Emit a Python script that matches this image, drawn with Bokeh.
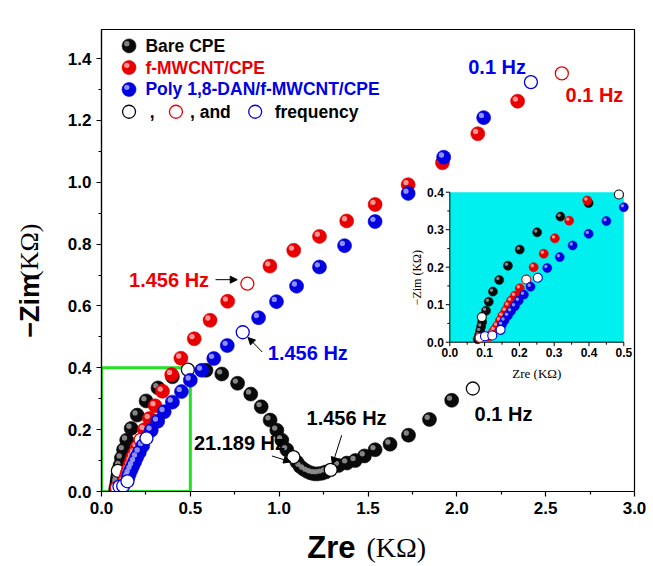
import math
from bokeh.plotting import figure
from bokeh.layouts import row, column
from bokeh.models import (Range1d, Arrow, NormalHead, ColumnDataSource,
                          FixedTicker, NumeralTickFormatter)
from bokeh.transform import dodge
from bokeh.core.properties import value
from bokeh.embed import file_html
from bokeh.resources import INLINE

# ---------------- data (KΩ) ----------------
bare_x = [0.080, 0.084, 0.087, 0.090, 0.093, 0.104, 0.112, 0.124, 0.142, 0.167,
          0.201, 0.251, 0.318, 0.399, 0.588, 0.677, 0.766, 0.840, 0.899, 0.949,
          0.987, 1.015, 1.043, 1.100, 1.118, 1.138, 1.158, 1.178, 1.198, 1.218,
          1.240, 1.262, 1.334, 1.381, 1.428, 1.480, 1.540, 1.624, 1.728, 1.846, 1.971]
bare_y = [0.008, 0.018, 0.030, 0.042, 0.054, 0.084, 0.108, 0.135, 0.166, 0.204,
          0.247, 0.293, 0.335, 0.371, 0.392, 0.380, 0.350, 0.315, 0.274, 0.231,
          0.198, 0.166, 0.135, 0.095, 0.081, 0.072, 0.065, 0.060, 0.057, 0.057,
          0.059, 0.063, 0.084, 0.092, 0.100, 0.115, 0.135, 0.153, 0.182, 0.233, 0.295]
bare_open_x = [0.092, 0.486, 1.080, 1.290, 2.090]
bare_open_y = [0.067, 0.394, 0.111, 0.070, 0.333]

red_x = [0.112, 0.122, 0.128, 0.136, 0.144, 0.151, 0.160, 0.168, 0.176, 0.187,
         0.201, 0.241, 0.270, 0.302, 0.343, 0.395, 0.447, 0.522, 0.611, 0.710,
         0.948, 1.082, 1.227, 1.380, 1.540, 1.726, 1.919, 2.118, 2.342]
red_y = [0.015, 0.025, 0.033, 0.044, 0.058, 0.071, 0.084, 0.098, 0.111, 0.124,
         0.144, 0.200, 0.236, 0.277, 0.324, 0.378, 0.431, 0.494, 0.554, 0.615,
         0.729, 0.780, 0.825, 0.875, 0.928, 0.992, 1.063, 1.157, 1.262]
red_open_x = [0.086, 0.220, 0.821, 2.591]
red_open_y = [0.012, 0.167, 0.672, 1.352]

blue_x = [0.150, 0.157, 0.167, 0.176, 0.187, 0.198, 0.213, 0.232, 0.280, 0.316,
          0.353, 0.399, 0.450, 0.500, 0.564, 0.632, 0.708, 0.884, 0.985, 1.098,
          1.227, 1.368, 1.540, 1.726, 1.926, 2.151]
blue_y = [0.047, 0.058, 0.071, 0.083, 0.096, 0.111, 0.127, 0.148, 0.198, 0.227,
          0.258, 0.289, 0.323, 0.360, 0.392, 0.430, 0.472, 0.562, 0.614, 0.664,
          0.726, 0.795, 0.873, 0.964, 1.081, 1.209]
blue_open_x = [0.101, 0.122, 0.146, 0.253, 0.795, 2.417]
blue_open_y = [0.016, 0.018, 0.033, 0.172, 0.515, 1.324]

series_names = ["Bare CPE", "f-MWCNT/CPE", "Poly 1,8-DAN/f-MWCNT/CPE"]

x_ticks = [0.0, 0.5, 1.0, 1.5, 2.0, 2.5, 3.0]
y_ticks = [0.0, 0.2, 0.4, 0.6, 0.8, 1.0, 1.2, 1.4]
inset_x_ticks = [0.0, 0.1, 0.2, 0.3, 0.4, 0.5]
inset_y_ticks = [0.0, 0.1, 0.2, 0.3, 0.4]
inset_x_labels = ["0.0", "0.1", "0.2", "0.3", "0.4", "0.5"]
inset_y_labels = ["0.0", "0.1", "0.2", "0.3", "0.4"]

x_title = ["Zre", "(KΩ)"]
y_title = ["−Zim", "(KΩ)"]
inset_x_title = "Zre (KΩ)"
inset_y_title = "−Zim (KΩ)"

# frequency annotations
ann_text = ["0.1 Hz", "0.1 Hz", "1.456 Hz", "1.456 Hz", "21.189 Hz", "1.456 Hz", "0.1 Hz"]
ann_x = [2.064, 2.612, 0.155, 0.936, 0.520, 1.154, 2.100]
ann_y = [1.373, 1.283, 0.685, 0.448, 0.156, 0.237, 0.252]
ann_color = ["#0000ee", "#ee0000", "#ee0000", "#0000ee", "black", "black", "black"]
arrow_x0 = [0.642, 0.905, 0.959, 1.352]
arrow_y0 = [0.685, 0.451, 0.115, 0.182]
arrow_x1 = [0.764, 0.825, 1.065, 1.300]
arrow_y1 = [0.685, 0.498, 0.096, 0.088]

# ---------------- layout ----------------
YLAB_W = 48                 # width of the y-title strip
XLAB_H = 40                 # height of the x-title strip
FW, FH = 533, 462
BL, BR, BT, BB = 101 - YLAB_W, 12, 29, 35
PW, PH = BL + FW + BR, BT + FH + BB
X_RANGE = (0.0, 3.0)
Y_RANGE = (0.0, 1.494)
# inset box, px from frame left / frame bottom
IX0, IX1 = 348.3, 522.3
IY0, IY1 = 149.3, 299.3
INSET_XLIM = (0.0, 0.5)
INSET_YLIM = (0.0, 0.4)

FONT = "Liberation Sans"
SERIF = "Liberation Serif"
BLACK, RED, BLUE = "#0a0a0a", "#e80000", "#0000e0"
HL = {"k": "#9a9a9a", "r": "#ffb0b0", "b": "#a8a8ff"}

p = figure(frame_width=FW, frame_height=FH,
           x_range=Range1d(*X_RANGE), y_range=Range1d(*Y_RANGE),
           output_backend="svg", toolbar_location=None,
           min_border_left=BL, min_border_right=BR,
           min_border_top=BT, min_border_bottom=BB,
           background_fill_color="white", border_fill_color="white")
p.xgrid.visible = False
p.ygrid.visible = False
p.outline_line_color = "black"
p.outline_line_width = 1.2
p.outline_line_alpha = 1.0

def minors(ticks):
    return [(a + b) / 2 for a, b in zip(ticks[:-1], ticks[1:])]

p.xaxis.ticker = FixedTicker(ticks=x_ticks, minor_ticks=minors(x_ticks))
p.yaxis.ticker = FixedTicker(ticks=y_ticks, minor_ticks=minors(y_ticks))
for ax in (p.xaxis[0], p.yaxis[0]):
    ax.formatter = NumeralTickFormatter(format="0.0")
    ax.major_tick_in = 0
    ax.major_tick_out = 5
    ax.minor_tick_in = 0
    ax.minor_tick_out = 3
    ax.axis_line_color = "black"
    ax.axis_line_width = 1.2
    ax.major_tick_line_width = 1.2
    ax.minor_tick_line_width = 1.2
    ax.major_label_text_font = FONT
    ax.major_label_text_font_style = "bold"
    ax.major_label_text_font_size = "17px"
    ax.major_label_text_color = "black"
p.xaxis.major_label_standoff = 5
p.yaxis.major_label_standoff = 5

# inset ranges mapped onto a sub-box of the frame
isx = (IX1 - IX0) / (INSET_XLIM[1] - INSET_XLIM[0])
isy = (IY1 - IY0) / (INSET_YLIM[1] - INSET_YLIM[0])
p.extra_x_ranges = {"ix": Range1d(INSET_XLIM[0] - IX0 / isx, INSET_XLIM[0] + (FW - IX0) / isx)}
p.extra_y_ranges = {"iy": Range1d(INSET_YLIM[0] - IY0 / isy, INSET_YLIM[0] + (FH - IY0) / isy)}

# green zoom box on main plot
p.quad(left=[INSET_XLIM[0]], right=[INSET_XLIM[1]], bottom=[INSET_YLIM[0]], top=[INSET_YLIM[1]],
       fill_color=None, line_color="#22e022", line_width=3)

# ---------------- helpers ----------------
def spheres(xs, ys, color, hl, size, dpx, xr=None, yr=None, sx=None, sy=None):
    src = ColumnDataSource(dict(x=xs, y=ys))
    kw = {}
    if xr is not None:
        kw = dict(x_range_name=xr, y_range_name=yr)
        xrange, yrange = p.extra_x_ranges[xr], p.extra_y_ranges[yr]
        ux, uy = dpx / sx, dpx / sy
    else:
        xrange, yrange = p.x_range, p.y_range
        ux = dpx * (X_RANGE[1] - X_RANGE[0]) / FW
        uy = dpx * (Y_RANGE[1] - Y_RANGE[0]) / FH
    p.scatter("x", "y", source=src, size=size, fill_color=color,
              line_color=color, line_width=0.6, **kw)
    p.scatter(x=dodge("x", -ux, range=xrange), y=dodge("y", uy, range=yrange),
              source=src, size=size * 0.38, fill_color=hl, fill_alpha=0.85,
              line_color=None, **kw)

def opens(xs, ys, color, size, lw=1.3, **kw):
    p.scatter(xs, ys, size=size, fill_color="white", line_color=color,
              line_width=lw, **kw)

# ---------------- main series ----------------
spheres(bare_x, bare_y, BLACK, HL["k"], 14, 2.2)
opens(bare_open_x, bare_open_y, BLACK, 13)
spheres(red_x, red_y, RED, HL["r"], 14, 2.2)
opens(red_open_x, red_open_y, RED, 13)
spheres(blue_x, blue_y, BLUE, HL["b"], 14, 2.2)
opens(blue_open_x, blue_open_y, BLUE, 13)

# ---------------- annotations ----------------
p.text(x=ann_x, y=ann_y, text=ann_text, text_color=ann_color,
       text_font=value(FONT), text_font_style="bold", text_font_size="20px",
       text_align="left", text_baseline="middle")
for x0, y0, x1, y1 in zip(arrow_x0, arrow_y0, arrow_x1, arrow_y1):
    p.add_layout(Arrow(end=NormalHead(size=7, fill_color="black", line_color="black"),
                       x_start=x0, y_start=y0, x_end=x1, y_end=y1,
                       line_color="black", line_width=1))

# ---------------- legend ----------------
leg_x, leg_tx = 0.155, 0.247
leg_rows = [1.441, 1.371, 1.300, 1.228]
leg_colors = [BLACK, RED, BLUE]
leg_hl = [HL["k"], HL["r"], HL["b"]]
for name, c, h, yy in zip(series_names, leg_colors, leg_hl, leg_rows[:3]):
    spheres([leg_x], [yy], c, h, 14, 2.2)
    p.text(x=[leg_tx], y=[yy], text=[name], text_color=c, text_font=value(FONT),
           text_font_style="bold", text_font_size="17.5px", text_align="left",
           text_baseline="middle")
opens([leg_x, 0.419, 0.865], [leg_rows[3]] * 3, [BLACK, RED, BLUE], 13)
p.text(x=[0.272, 0.498, 0.975], y=[leg_rows[3]] * 3, text=[",", ", and", "frequency"],
       text_color="black", text_font=value(FONT), text_font_style="bold",
       text_font_size="17.5px", text_align="left", text_baseline="middle")

# ---------------- inset ----------------
ikw = dict(x_range_name="ix", y_range_name="iy")
p.quad(left=[INSET_XLIM[0]], right=[INSET_XLIM[1]], bottom=[INSET_YLIM[0]],
       top=[INSET_YLIM[1]], fill_color="#00f0f0", line_color=None, **ikw)
p.segment(x0=[INSET_XLIM[0], INSET_XLIM[0]], y0=[INSET_YLIM[0], INSET_YLIM[0]],
          x1=[INSET_XLIM[1], INSET_XLIM[0]], y1=[INSET_YLIM[0], INSET_YLIM[1]],
          line_color="black", line_width=1, **ikw)
tlx, tly = 4 / isy, 4 / isx      # major tick lengths in inset units
mlx, mly = 2.5 / isy, 2.5 / isx
p.segment(x0=inset_x_ticks, y0=[0] * len(inset_x_ticks), x1=inset_x_ticks,
          y1=[-tlx] * len(inset_x_ticks), line_color="black", line_width=1, **ikw)
mx = minors(inset_x_ticks)
p.segment(x0=mx, y0=[0] * len(mx), x1=mx, y1=[-mlx] * len(mx),
          line_color="black", line_width=1, **ikw)
p.segment(x0=[0] * len(inset_y_ticks), y0=inset_y_ticks, x1=[-tly] * len(inset_y_ticks),
          y1=inset_y_ticks, line_color="black", line_width=1, **ikw)
my = minors(inset_y_ticks)
p.segment(x0=[0] * len(my), y0=my, x1=[-mly] * len(my), y1=my,
          line_color="black", line_width=1, **ikw)
p.text(x=inset_x_ticks, y=[-6 / isy] * len(inset_x_ticks), text=inset_x_labels,
       text_font=value(FONT), text_font_style="bold", text_font_size="12px",
       text_align="center", text_baseline="top", text_color="black", **ikw)
p.text(x=[-6 / isx] * len(inset_y_ticks), y=inset_y_ticks, text=inset_y_labels,
       text_font=value(FONT), text_font_style="bold", text_font_size="12px",
       text_align="right", text_baseline="middle", text_color="black", **ikw)
p.text(x=[0.25], y=[-0.083], text=[inset_x_title], text_font=value(SERIF),
       text_font_size="13px", text_align="center", text_baseline="middle",
       text_color="black", **ikw)
p.text(x=[-0.095], y=[0.172], text=[inset_y_title], text_font=value(SERIF),
       text_font_size="12px", text_align="center", text_baseline="middle",
       angle=math.pi / 2, text_color="black", **ikw)

def in_inset(xs, ys):
    keep = [(a, b) for a, b in zip(xs, ys)
            if a <= INSET_XLIM[1] + 0.005 and b <= INSET_YLIM[1] + 0.005]
    return [a for a, _ in keep], [b for _, b in keep]

for (fx, fy, ox, oy, c, h) in [
        (bare_x, bare_y, bare_open_x, bare_open_y, BLACK, HL["k"]),
        (red_x, red_y, red_open_x, red_open_y, RED, HL["r"]),
        (blue_x, blue_y, blue_open_x, blue_open_y, BLUE, HL["b"])]:
    a, b = in_inset(fx, fy)
    spheres(a, b, c, h, 9, 1.4, xr="ix", yr="iy", sx=isx, sy=isy)
    a, b = in_inset(ox, oy)
    opens(a, b, c, 9, lw=1.1, **ikw)

# ---------------- axis title strips (window pixel coordinates) ----------------
def strip(w, h):
    f = figure(width=w, height=h, x_range=Range1d(0, w), y_range=Range1d(0, h),
               output_backend="svg", toolbar_location=None,
               x_axis_location=None, y_axis_location=None,
               min_border=0, background_fill_color="white", border_fill_color="white")
    f.grid.visible = False
    f.outline_line_color = None
    return f

ylab = strip(YLAB_W, PH)
ylab.text(x=[29], y=[PH - 351], text=[y_title[0]], text_font=value(FONT),
          text_font_style="bold", text_font_size="27px", text_align="left",
          text_baseline="middle", angle=math.pi / 2, text_color="black")
ylab.text(x=[29], y=[PH - 284], text=[y_title[1]], text_font=value(SERIF),
          text_font_size="26px", text_align="left", text_baseline="middle",
          angle=math.pi / 2, text_color="black")

TW = YLAB_W + PW
xlab = strip(TW, XLAB_H)
xlab.text(x=[355], y=[XLAB_H - (547 - PH)], text=[x_title[0]],
          text_font=value(FONT), text_font_style="bold", text_font_size="31px",
          text_align="right", text_baseline="middle", text_color="black")
xlab.text(x=[366], y=[XLAB_H - (547 - PH)], text=[x_title[1]],
          text_font=value(SERIF), text_font_size="28px", text_align="left",
          text_baseline="middle", text_color="black")

layout = column(row(ylab, p, spacing=0), xlab, spacing=0)
open("out.html", "w").write(file_html(layout, INLINE))
